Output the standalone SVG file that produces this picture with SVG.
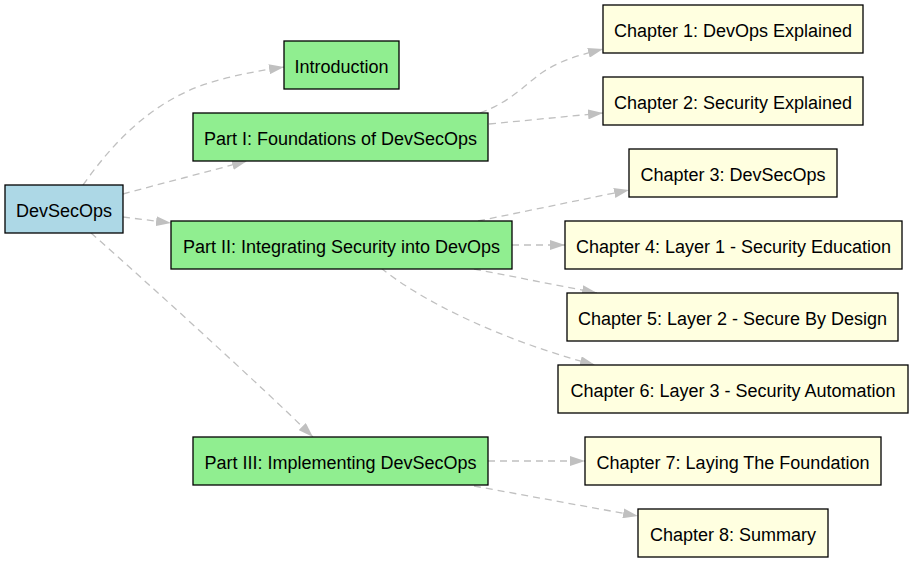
<svg xmlns="http://www.w3.org/2000/svg" width="913" height="563" viewBox="0 0 913 563">
<defs>
<style>
.node rect{stroke:#000;stroke-width:1.3}
.root rect{fill:#add8e6}
.part rect{fill:#90ee90}
.ch rect{fill:#ffffe0}
text{font-family:"Liberation Sans",Arial,sans-serif;font-size:18px;fill:#000;text-anchor:middle}
.edges path{fill:none;stroke:#c0c0c0;stroke-width:1.3;stroke-dasharray:7,5;marker-end:url(#arr)}
</style>
<marker id="arr" viewBox="0 0 15 10" refX="15" refY="5" markerWidth="15" markerHeight="10" markerUnits="userSpaceOnUse" orient="auto">
<path d="M0,0 L15,5 L0,10 z" fill="#c0c0c0"/>
</marker>
</defs>
<rect width="913" height="563" fill="#fff"/>
<g class="edges">
<path d="M83,185 C115,140 150,105 200,86 C228,76 258,71 284,67"/>
<path d="M123,194 C160,184 210,171 247,161"/>
<path d="M123,217 L171,223"/>
<path d="M91,233 C150,285 260,385 313,437"/>
<path d="M480,113 C510,102 525,85 540,74 C560,60 580,55 603,49"/>
<path d="M489,124 L603,113"/>
<path d="M478,221 L629,190"/>
<path d="M512,245 L565,245"/>
<path d="M474,269 L597,293"/>
<path d="M381,268 C420,300 500,340 595,365"/>
<path d="M488,461 L585,461"/>
<path d="M474,486 L638,516"/>
</g>
<g id="devsecops" class="node root"><rect x="5" y="185" width="118" height="48"/><text x="64" y="216.5">DevSecOps</text></g>
<g id="intro" class="node part"><rect x="284" y="41" width="115" height="48"/><text x="341.5" y="72.5">Introduction</text></g>
<g id="part1" class="node part"><rect x="193" y="113" width="295" height="48"/><text x="340.5" y="144.5">Part I: Foundations of DevSecOps</text></g>
<g id="part2" class="node part"><rect x="171" y="221" width="341" height="48"/><text x="341.5" y="252.5">Part II: Integrating Security into DevOps</text></g>
<g id="part3" class="node part"><rect x="193" y="437" width="295" height="48"/><text x="340.5" y="468.5">Part III: Implementing DevSecOps</text></g>
<g id="ch1" class="node ch"><rect x="603" y="5" width="260" height="48"/><text x="733" y="36.5">Chapter 1: DevOps Explained</text></g>
<g id="ch2" class="node ch"><rect x="603" y="77" width="260" height="48"/><text x="733" y="108.5">Chapter 2: Security Explained</text></g>
<g id="ch3" class="node ch"><rect x="629" y="149" width="208" height="48"/><text x="733" y="180.5">Chapter 3: DevSecOps</text></g>
<g id="ch4" class="node ch"><rect x="565" y="221" width="337" height="48"/><text x="733.5" y="252.5">Chapter 4: Layer 1 - Security Education</text></g>
<g id="ch5" class="node ch"><rect x="567" y="293" width="331" height="48"/><text x="732.5" y="324.5">Chapter 5: Layer 2 - Secure By Design</text></g>
<g id="ch6" class="node ch"><rect x="558" y="365" width="350" height="48"/><text x="733" y="396.5">Chapter 6: Layer 3 - Security Automation</text></g>
<g id="ch7" class="node ch"><rect x="585" y="437" width="296" height="48"/><text x="733" y="468.5">Chapter 7: Laying The Foundation</text></g>
<g id="ch8" class="node ch"><rect x="638" y="509" width="190" height="48"/><text x="733" y="540.5">Chapter 8: Summary</text></g>
</svg>
